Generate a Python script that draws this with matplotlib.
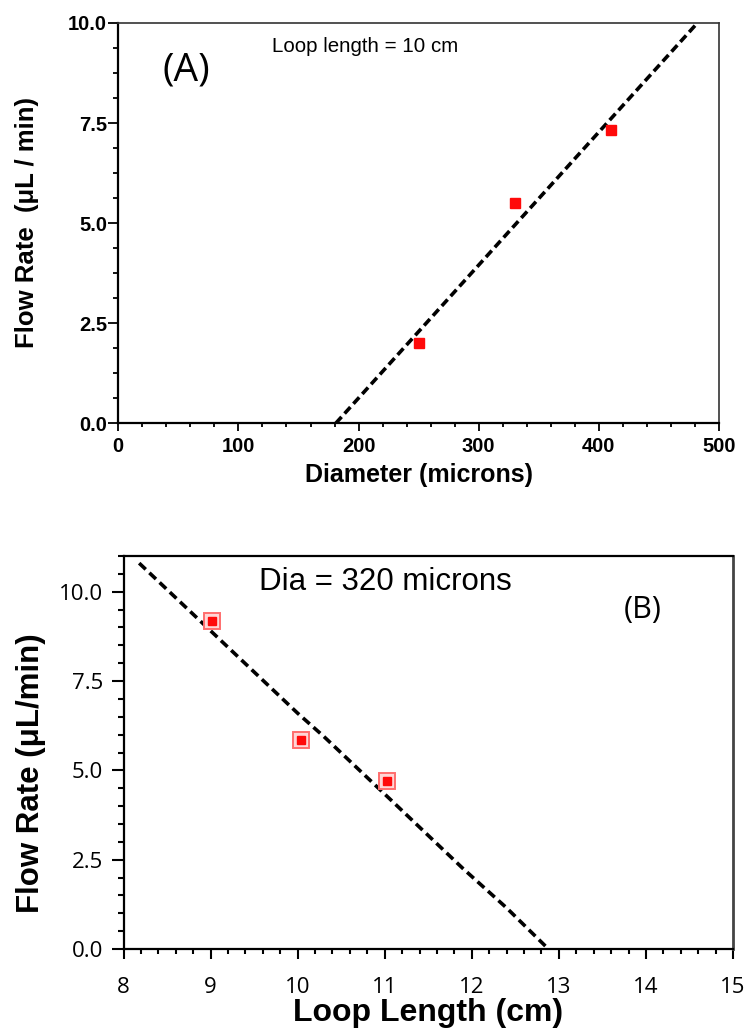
import matplotlib
matplotlib.use("Agg")
import matplotlib.pyplot as plt
from matplotlib import font_manager
from matplotlib.ticker import MultipleLocator, FormatStrFormatter

# ---- data -------------------------------------------------------------
# Panel A: flow rate vs tubing diameter (loop length 10 cm)
diam_um = [250, 330, 410]
flow_a = [2.0, 5.5, 7.33]
fit_a_x = [181, 482]
fit_a_y = [0.0, 10.0]

# Panel B: flow rate vs loop length (diameter 320 microns)
loop_cm = [9.02, 10.04, 11.03]
flow_b = [9.19, 5.85, 4.70]
fit_b_x = [8.18, 10.0, 10.3, 11.05, 11.9, 12.4, 12.88]
fit_b_y = [10.80, 6.60, 5.95, 4.22, 2.25, 1.15, 0.0]

x_ticks_a = [0, 100, 200, 300, 400, 500]
y_ticks = [0.0, 2.5, 5.0, 7.5, 10.0]
x_ticks_b = [8, 9, 10, 11, 12, 13, 14, 15]

# ---- fonts ------------------------------------------------------------
installed = {f.name for f in font_manager.fontManager.ttflist}
ARIAL = "Liberation Sans"
NARROW = "Liberation Sans Narrow" if "Liberation Sans Narrow" in installed else None
HUMAN = "Open Sans" if "Open Sans" in installed else "Noto Sans"

W, H = 749, 1028
fig = plt.figure(figsize=(W / 100, H / 100), dpi=100)
fig.patch.set_facecolor("white")


def px_axes(left, top, right, bottom):
    return fig.add_axes([left / W, 1 - bottom / H, (right - left) / W, (bottom - top) / H])


# ---- panel A ----------------------------------------------------------
axA = px_axes(118.3, 23, 719, 423.3)
axA.set_xlim(0, 500)
axA.set_ylim(0, 10)
axA.plot(fit_a_x, fit_a_y, color="black", lw=2.6, dashes=(2.4, 1.25),
         dash_capstyle="butt", zorder=2)
axA.plot(diam_um, flow_a, "s", ms=7.8, color="#ff0a0a", mec="#ff0a0a", zorder=3)

axA.set_xticks(x_ticks_a)
axA.set_yticks(y_ticks)
axA.xaxis.set_minor_locator(MultipleLocator(20))
axA.yaxis.set_minor_locator(MultipleLocator(0.625))
axA.yaxis.set_major_formatter(FormatStrFormatter("%.1f"))
axA.tick_params(which="both", direction="out", top=False, right=False, width=1.3,
                color="black", labelsize=14.5, labelfontfamily=ARIAL)
axA.tick_params(axis="y", which="major", length=7.2, pad=0.8)
axA.tick_params(axis="y", which="minor", length=3.6)
axA.tick_params(axis="x", which="major", length=6.0, pad=4)
axA.tick_params(axis="x", which="minor", length=3.2)
plt.setp(axA.get_xticklabels() + axA.get_yticklabels(), fontweight="bold")
for side in ("left", "bottom"):
    axA.spines[side].set_linewidth(1.6)
    axA.spines[side].set_color("black")
for side in ("top", "right"):
    axA.spines[side].set_linewidth(1.2)
    axA.spines[side].set_color("#333333")

if NARROW:
    axA.text(128, 9.275, "Loop length = 10 cm", family=NARROW, fontsize=18,
             ha="left", va="baseline")
else:
    axA.text(128, 9.275, "Loop length = 10 cm", family=ARIAL, fontsize=14.8,
             ha="left", va="baseline")
axA.text(37, 8.575, "(A)", family=HUMAN, fontsize=28, ha="left", va="baseline")

fig.text(27 / W, 1 - 222 / H, "Flow Rate  (\u03bcL / min)", family=ARIAL,
         fontweight="bold", fontsize=18.5, rotation=90, ha="center", va="center")
fig.text(418.5 / W, 1 - 482 / H, "Diameter (microns)", family=ARIAL,
         fontweight="bold", fontsize=18, ha="center", va="baseline")

# ---- panel B ----------------------------------------------------------
axB = px_axes(123.5, 556, 733, 949)
axB.set_xlim(8, 15)
axB.set_ylim(0, 11)
axB.plot(fit_b_x, fit_b_y, color="black", lw=2.6, dashes=(2.5, 1.4),
         dash_capstyle="butt", zorder=2)
axB.plot(loop_cm, flow_b, "s", ms=11.5, mfc="#ffd6d6", mec="#ff6e6e", mew=1.4, zorder=3)
axB.plot(loop_cm, flow_b, "s", ms=6.4, color="#ff0a0a", mec="#ff0a0a", zorder=4)

axB.set_xticks(x_ticks_b)
axB.set_yticks(y_ticks)
axB.xaxis.set_minor_locator(MultipleLocator(0.2))
axB.yaxis.set_minor_locator(MultipleLocator(0.5))
axB.yaxis.set_major_formatter(FormatStrFormatter("%.1f"))
axB.tick_params(which="both", direction="out", top=False, right=False, width=1.5,
                color="black", labelsize=16, labelfontfamily=HUMAN)
axB.tick_params(axis="y", which="major", length=8.6, pad=6)
axB.tick_params(axis="y", which="minor", length=4.3)
axB.tick_params(axis="x", which="major", length=7.2, pad=13)
axB.tick_params(axis="x", which="minor", length=3.6)
for side in ("left", "bottom", "top"):
    axB.spines[side].set_linewidth(1.6)
    axB.spines[side].set_color("black")
axB.spines["right"].set_linewidth(2.0)
axB.spines["right"].set_color("#444444")

axB.text(9.56, 10.05, "Dia = 320 microns", family=ARIAL, fontsize=22.5,
         ha="left", va="baseline")
axB.text(13.75, 9.26, "(B)", family=HUMAN, fontsize=22, ha="left", va="baseline")

fig.text(31 / W, 1 - 773.5 / H, "Flow Rate (\u03bcL/min)", family=ARIAL,
         fontweight="bold", fontsize=22.5, rotation=90, ha="center", va="center")
fig.text(428 / W, 1 - 1021 / H, "Loop Length (cm)", family=ARIAL,
         fontweight="bold", fontsize=23, ha="center", va="baseline")

fig.savefig("out.png", dpi=100, facecolor="white")
